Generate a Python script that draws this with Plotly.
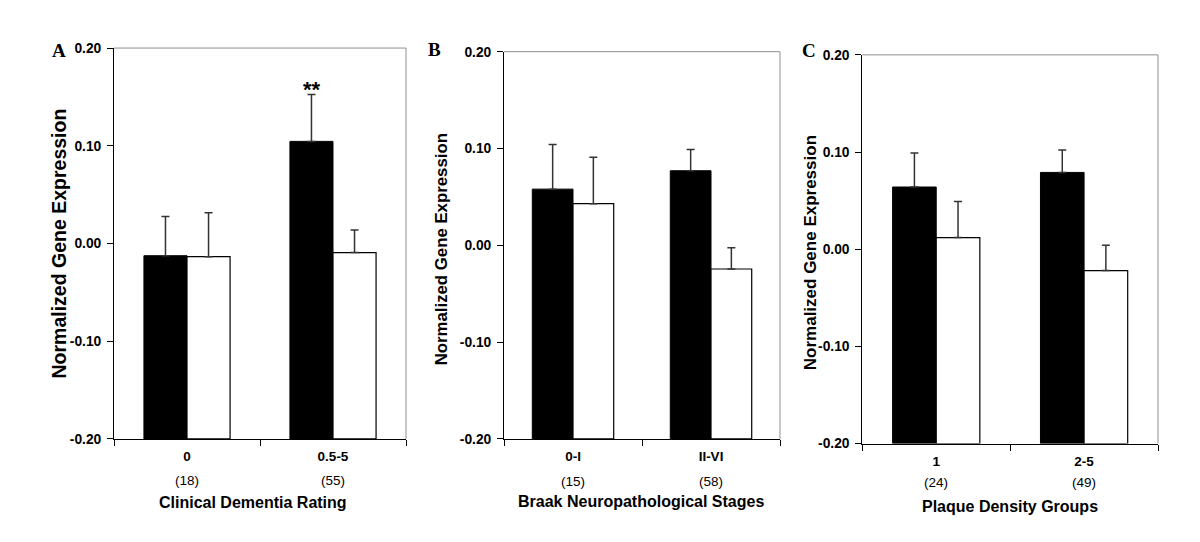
import plotly.graph_objects as go

# ---------------- data ----------------
panel_letters = ["A", "B", "C"]
x_titles = ["Clinical Dementia Rating", "Braak Neuropathological Stages", "Plaque Density Groups"]
y_title = "Normalized Gene Expression"

A_groups = ["0", "0.5-5"]
A_counts = ["(18)", "(55)"]
A_black = [-0.0125, 0.1045]
A_black_err = [0.040, 0.048]
A_white = [-0.0135, -0.0093]
A_white_err = [0.045, 0.023]

B_groups = ["0-I", "II-VI"]
B_counts = ["(15)", "(58)"]
B_black = [0.058, 0.077]
B_black_err = [0.046, 0.022]
B_white = [0.043, -0.0245]
B_white_err = [0.048, 0.022]

C_groups = ["1", "2-5"]
C_counts = ["(24)", "(49)"]
C_black = [0.064, 0.079]
C_black_err = [0.035, 0.023]
C_white = [0.012, -0.022]
C_white_err = [0.037, 0.026]

y_tick_vals = [-0.2, -0.1, 0.0, 0.1, 0.2]
y_tick_text = ["-0.20", "-0.10", "0.00", "0.10", "0.20"]
y_min, y_max = -0.2, 0.2

# ---------------- layout constants ----------------
W, H = 1200, 542
FONT = "Arial, Liberation Sans, sans-serif"
SERIF = "Times New Roman, Liberation Serif, serif"

# pixel boxes of plot areas: (left, right, top, bottom)
boxes = [(106, 398, 34, 436), (496, 772, 37.7, 436), (854.3, 1150, 41, 440.7)]
ytitle_pos = [(51, 235, 19.5), (433, 241, 16.8), (802, 245, 17)]
xtitle_pos = [(245, 501), (633, 500), (1002, 506)]
letter_pos = [(51, 37), (426, 35), (801, 37)]
count_y = [479, 480, 481]

panels = [
    (A_groups, A_counts, A_black, A_black_err, A_white, A_white_err),
    (B_groups, B_counts, B_black, B_black_err, B_white, B_white_err),
    (C_groups, C_counts, C_black, C_black_err, C_white, C_white_err),
]

fig = go.Figure()
annotations = []
shapes = []

for i, (groups, counts, blk, blk_e, wht, wht_e) in enumerate(panels):
    sfx = "" if i == 0 else str(i + 1)
    xa, ya = "x" + sfx, "y" + sfx
    fig.add_trace(go.Bar(
        x=groups, y=[v - y_min for v in blk], base=y_min,
        xaxis=xa, yaxis=ya,
        marker=dict(color="black", line=dict(color="black", width=1)),
        error_y=dict(type="data", array=blk_e, arrayminus=[0] * len(blk_e),
                     symmetric=False, color="#333333", thickness=1.5, width=4),
    ))
    fig.add_trace(go.Bar(
        x=groups, y=[v - y_min for v in wht], base=y_min,
        xaxis=xa, yaxis=ya,
        marker=dict(color="white", line=dict(color="black", width=1.2)),
        error_y=dict(type="data", array=wht_e, arrayminus=[0] * len(wht_e),
                     symmetric=False, color="#333333", thickness=1.5, width=4),
    ))

    l, r, t, b = boxes[i]
    xdom = [l / W, r / W]
    ydom = [1 - b / H, 1 - t / H]
    fig.update_layout(**{
        "xaxis" + sfx: dict(
            domain=xdom, anchor=ya, type="category",
            categoryorder="array", categoryarray=groups,
            tickvals=groups, ticktext=["<b>%s</b>" % g for g in groups], tickson="boundaries",
            ticks="outside", ticklen=6, tickcolor="black", tickwidth=1,
            showline=True, linecolor="black", linewidth=1,
            showgrid=False, zeroline=False,
            tickfont=dict(family=FONT, size=13.5, color="black"),
            ticklabelstandoff=5, range=[-0.5, 1.5], fixedrange=True,
        ),
        "yaxis" + sfx: dict(
            domain=ydom, anchor=xa, range=[y_min, y_max],
            tickvals=y_tick_vals, ticktext=["<b>%s</b>" % s for s in y_tick_text],
            ticks="outside", ticklen=6, tickcolor="black", tickwidth=1,
            showline=True, linecolor="black", linewidth=1,
            showgrid=False, zeroline=False,
            tickfont=dict(family=FONT, size=13.8, color="black"),
            ticklabelstandoff=3, fixedrange=True,
        ),
    })
    # grey top / right frame
    shapes.append(dict(type="line", xref=xa + " domain", yref=ya + " domain",
                       x0=0, x1=1, y0=1, y1=1, line=dict(color="#8f8f8f", width=1)))
    shapes.append(dict(type="line", xref=xa + " domain", yref=ya + " domain",
                       x0=1, x1=1, y0=0, y1=1, line=dict(color="#8f8f8f", width=1)))

    # group sizes below category labels (x given as category index)
    for j, c in enumerate(counts):
        annotations.append(dict(text=c, xref=xa, yref="paper", x=j, y=1 - count_y[i] / H,
                                xanchor="center", yanchor="middle", showarrow=False,
                                font=dict(family=FONT, size=13.5, color="black")))

    yx, yy, ys = ytitle_pos[i]
    annotations.append(dict(text="<b>%s</b>" % y_title, xref="paper", yref="paper",
                            x=yx / W, y=1 - yy / H, xanchor="center", yanchor="middle",
                            textangle=-90, showarrow=False,
                            font=dict(family=FONT, size=ys, color="black")))
    xx, xy = xtitle_pos[i]
    annotations.append(dict(text="<b>%s</b>" % x_titles[i], xref="paper", yref="paper",
                            x=xx / W, y=1 - xy / H, xanchor="center", yanchor="middle",
                            showarrow=False, font=dict(family=FONT, size=16, color="black")))
    lx, ly = letter_pos[i]
    annotations.append(dict(text="<b>%s</b>" % panel_letters[i], xref="paper", yref="paper",
                            x=lx / W, y=1 - ly / H, xanchor="center", yanchor="middle",
                            showarrow=False, font=dict(family=SERIF, size=19, color="black")))

# significance marker over the CDR 0.5-5 black bar
annotations.append(dict(text="<b>**</b>", xref="x", yref="y",
                        x=1, y=A_black[1] + A_black_err[1],
                        xshift=-21.5, yshift=5, xanchor="center", yanchor="middle",
                        showarrow=False, font=dict(family=FONT, size=22, color="black")))

fig.update_layout(
    width=W, height=H, margin=dict(l=0, r=0, t=0, b=0),
    paper_bgcolor="white", plot_bgcolor="white",
    barmode="group", bargap=0.41, bargroupgap=0,
    showlegend=False, annotations=annotations, shapes=shapes,
)

fig.write_html("out.html")
